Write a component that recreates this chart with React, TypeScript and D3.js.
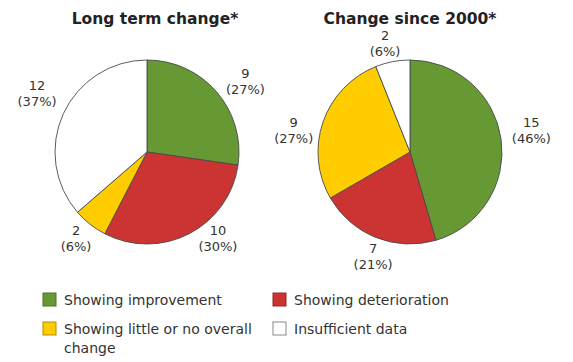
import { useRef, useEffect } from "react";
import * as d3 from "d3";

const categories = [
  "Showing improvement",
  "Showing deterioration",
  "Showing little or no overall change",
  "Insufficient data",
];
const colors = ["#669933", "#cc3333", "#ffcc00", "#ffffff"];
const borderColors = ["#4d7326", "#992626", "#b38f00", "#888888"];

const longTermValues = [9, 10, 2, 12];
const longTermPct = ["27%", "30%", "6%", "37%"];
const since2000Values = [15, 7, 9, 2];
const since2000Pct = ["46%", "21%", "27%", "6%"];

const titles = ["Long term change*", "Change since 2000*"];

export default function App() {
  const svgRef = useRef<SVGSVGElement>(null);

  useEffect(() => {
    if (!svgRef.current) return;
    const width = 573;
    const height = 362;
    const svg = d3.select(svgRef.current);
    svg.selectAll("*").remove();
    svg.attr("width", width).attr("height", height);

    svg.append("rect").attr("width", width).attr("height", height).attr("fill", "#fff");

    const radius = 92;
    const font = "Verdana, 'DejaVu Sans', sans-serif";

    // label placement: angle nudge (deg) and distance from the centre, per slice
    const pies = [
      {
        cx: 147,
        cy: 152,
        titleDx: 8,
        values: longTermValues,
        pct: longTermPct,
        title: titles[0],
        nudge: [
          { da: 6, r: 120 },
          { da: -11.6, r: 113 },
          { da: 0.7, r: 113 },
          { da: 3, r: 124 },
        ],
      },
      {
        cx: 410,
        cy: 152,
        titleDx: 0,
        values: since2000Values,
        pct: since2000Pct,
        title: titles[1],
        nudge: [
          { da: -1.3, r: 123 },
          { da: -2.6, r: 112 },
          { da: -9.4, r: 118 },
          { da: -2.2, r: 110 },
        ],
      },
    ];

    const pie = d3.pie<number>().sort(null).value((d) => d);
    const arc = d3.arc<d3.PieArcDatum<number>>().innerRadius(0).outerRadius(radius);

    pies.forEach((p) => {
      const g = svg.append("g").attr("transform", `translate(${p.cx},${p.cy})`);
      const arcs = pie(p.values);

      g.selectAll("path")
        .data(arcs)
        .join("path")
        .attr("d", arc)
        .attr("fill", (_, i) => colors[i])
        .attr("stroke", "#4a4a4a")
        .attr("stroke-width", 0.9);

      // Title
      svg
        .append("text")
        .attr("x", p.cx + p.titleDx)
        .attr("y", 24)
        .attr("text-anchor", "middle")
        .attr("font-family", font)
        .attr("font-weight", "bold")
        .attr("font-size", 15.5)
        .attr("fill", "#222")
        .text(p.title);

      // Labels
      const labels = g
        .selectAll("g.lbl")
        .data(arcs)
        .join("g")
        .attr("class", "lbl")
        .attr("transform", (d, i) => {
          const a = (d.startAngle + d.endAngle) / 2 + (p.nudge[i].da * Math.PI) / 180;
          const r = p.nudge[i].r;
          return `translate(${r * Math.sin(a)},${-r * Math.cos(a)})`;
        });
      labels
        .append("text")
        .attr("y", -5)
        .attr("text-anchor", "middle")
        .attr("font-family", font)
        .attr("font-size", 13)
        .attr("fill", "#333")
        .text((d) => String(d.data));
      labels
        .append("text")
        .attr("y", 11)
        .attr("text-anchor", "middle")
        .attr("font-family", font)
        .attr("font-size", 13)
        .attr("fill", "#333")
        .text((_, i) => `(${p.pct[i]})`);
    });

    // Legend
    const legendPos = [
      { x: 43, y: 293 },
      { x: 273, y: 293 },
      { x: 43, y: 322 },
      { x: 273, y: 322 },
    ];
    const legend = svg
      .selectAll("g.legend")
      .data(categories)
      .join("g")
      .attr("class", "legend")
      .attr("transform", (_, i) => `translate(${legendPos[i].x},${legendPos[i].y})`);
    legend
      .append("rect")
      .attr("width", 13)
      .attr("height", 13)
      .attr("fill", (_, i) => colors[i])
      .attr("stroke", (_, i) => borderColors[i])
      .attr("stroke-width", 1);
    legend.each(function (d) {
      const t = d3
        .select(this)
        .append("text")
        .attr("x", 21)
        .attr("y", 12)
        .attr("font-family", font)
        .attr("font-size", 14)
        .attr("fill", "#333");
      const lines = d === "Showing little or no overall change" ? ["Showing little or no overall", "change"] : [d];
      lines.forEach((line, j) => {
        t.append("tspan").attr("x", 21).attr("dy", j === 0 ? 0 : 19).text(line);
      });
    });
  }, []);

  return <svg ref={svgRef} style={{ position: "absolute", left: 0, top: 0 }} />;
}
